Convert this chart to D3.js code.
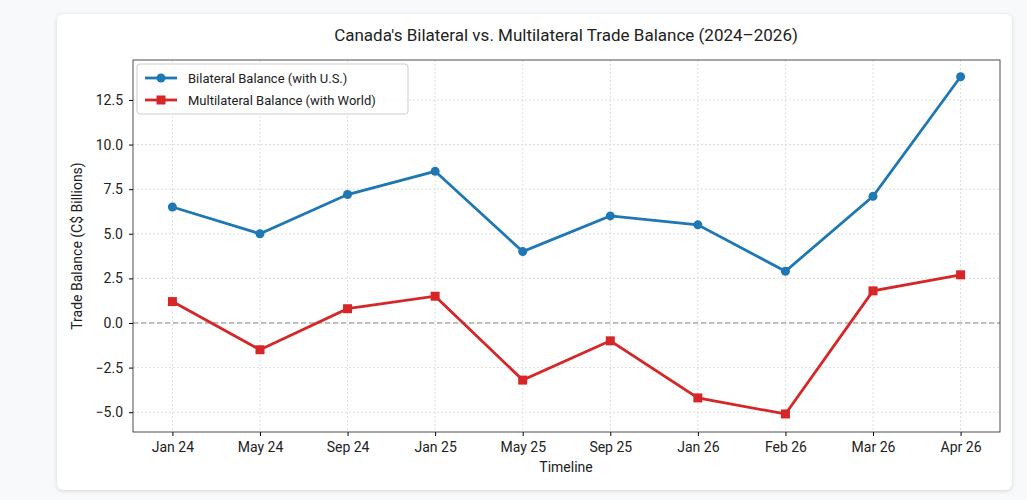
<!DOCTYPE html>
<html><head><meta charset="utf-8">
<script src="https://cdn.jsdelivr.net/npm/d3@7"></script>
<style>
body{margin:0;background:#f8f9fa;font-family:Roboto,"Noto Sans",sans-serif;}
#card{position:absolute;left:57px;top:14px;width:955px;height:476px;background:#fff;border-radius:6px;box-shadow:0 1px 4px rgba(0,0,0,0.15);}
svg{position:absolute;left:0;top:0;}
</style></head>
<body>
<div id="card"></div>
<svg id="chart" width="1027" height="500"></svg>
<script>
var categories = ['Jan 24','May 24','Sep 24','Jan 25','May 25','Sep 25','Jan 26','Feb 26','Mar 26','Apr 26'];
var bilateral = [6.5, 5.0, 7.2, 8.5, 4.0, 6.0, 5.5, 2.9, 7.1, 13.8];
var multilateral = [1.2, -1.5, 0.8, 1.5, -3.2, -1.0, -4.2, -5.1, 1.8, 2.7];
var yTicks = [-5.0, -2.5, 0.0, 2.5, 5.0, 7.5, 10.0, 12.5];

var svg = d3.select('#chart');
var plotLeft = 133, plotRight = 1000, plotTop = 60, plotBottom = 432;

var x = d3.scalePoint().domain(categories).range([plotLeft, plotRight]).padding(0.45);
var y = d3.scaleLinear().domain([-6.11, 14.74]).range([plotBottom, plotTop]);

// grid
svg.append('g').selectAll('line').data(yTicks).join('line')
  .attr('x1', plotLeft).attr('x2', plotRight)
  .attr('y1', d => y(d)).attr('y2', d => y(d))
  .attr('stroke', '#ddd').attr('stroke-dasharray', '2,2');
svg.append('g').selectAll('line').data(categories).join('line')
  .attr('y1', plotTop).attr('y2', plotBottom)
  .attr('x1', d => x(d)).attr('x2', d => x(d))
  .attr('stroke', '#ddd').attr('stroke-dasharray', '2,2');

// zero line
svg.append('line').attr('x1', plotLeft).attr('x2', plotRight)
  .attr('y1', y(0)).attr('y2', y(0))
  .attr('stroke', '#888').attr('stroke-dasharray', '5,3');

// axes
var xAxis = svg.append('g').attr('transform', 'translate(0,' + plotBottom + ')')
  .call(d3.axisBottom(x).tickSizeOuter(0).tickSize(4).tickPadding(6));
var yAxis = svg.append('g').attr('transform', 'translate(' + plotLeft + ',0)')
  .call(d3.axisLeft(y).tickValues(yTicks).tickFormat(d3.format('.1f')).tickSize(4).tickPadding(6));
[xAxis, yAxis].forEach(function(a) {
  a.selectAll('text').attr('font-size', 14).attr('fill', '#222').attr('font-family', 'Roboto, sans-serif');
  a.select('.domain').remove();
});
yAxis.selectAll('text').text(d => d < 0 ? '\u2212' + Math.abs(d).toFixed(1) : d.toFixed(1));
svg.append('rect').attr('x', plotLeft).attr('y', plotTop).attr('width', plotRight - plotLeft).attr('height', plotBottom - plotTop)
  .attr('fill', 'none').attr('stroke', '#222').attr('stroke-width', 0.8);

// series
var series = [
  {name: 'Bilateral Balance (with U.S.)', values: bilateral, color: '#1f77b4', shape: 'circle'},
  {name: 'Multilateral Balance (with World)', values: multilateral, color: '#d62728', shape: 'square'}
];
var line = d3.line().x((d, i) => x(categories[i])).y(d => y(d));
series.forEach(function(s) {
  svg.append('path').datum(s.values).attr('d', line)
    .attr('fill', 'none').attr('stroke', s.color).attr('stroke-width', 2.8);
  var g = svg.append('g');
  if (s.shape === 'circle') {
    g.selectAll('circle').data(s.values).join('circle')
      .attr('cx', (d, i) => x(categories[i])).attr('cy', d => y(d)).attr('r', 4.5).attr('fill', s.color);
  } else {
    g.selectAll('rect').data(s.values).join('rect')
      .attr('x', (d, i) => x(categories[i]) - 4.5).attr('y', d => y(d) - 4.5)
      .attr('width', 9).attr('height', 9).attr('fill', s.color);
  }
});

// legend
var lg = svg.append('g');
lg.append('rect').attr('x', 137).attr('y', 64).attr('width', 271).attr('height', 50).attr('rx', 3)
  .attr('fill', '#fff').attr('fill-opacity', 0.85).attr('stroke', '#ccc');
series.forEach(function(s, i) {
  var yy = 78 + i * 22;
  lg.append('line').attr('x1', 145).attr('x2', 177).attr('y1', yy).attr('y2', yy)
    .attr('stroke', s.color).attr('stroke-width', 2.8);
  if (s.shape === 'circle') lg.append('circle').attr('cx', 161).attr('cy', yy).attr('r', 4.5).attr('fill', s.color);
  else lg.append('rect').attr('x', 156.5).attr('y', yy - 4.5).attr('width', 9).attr('height', 9).attr('fill', s.color);
  lg.append('text').attr('x', 188).attr('y', yy + 4.5).attr('font-size', 13).attr('fill', '#222').text(s.name);
});

// titles
svg.append('text').attr('x', 566).attr('y', 41).attr('text-anchor', 'middle')
  .attr('font-size', 17).attr('fill', '#222').text("Canada's Bilateral vs. Multilateral Trade Balance (2024\u20132026)");
svg.append('text').attr('x', 566).attr('y', 472).attr('text-anchor', 'middle')
  .attr('font-size', 14).attr('fill', '#222').text('Timeline');
svg.append('text').attr('transform', 'translate(82,' + ((plotTop + plotBottom) / 2) + ') rotate(-90)')
  .attr('text-anchor', 'middle').attr('font-size', 14).attr('fill', '#222').text('Trade Balance (C$ Billions)');
</script>
</body></html>
